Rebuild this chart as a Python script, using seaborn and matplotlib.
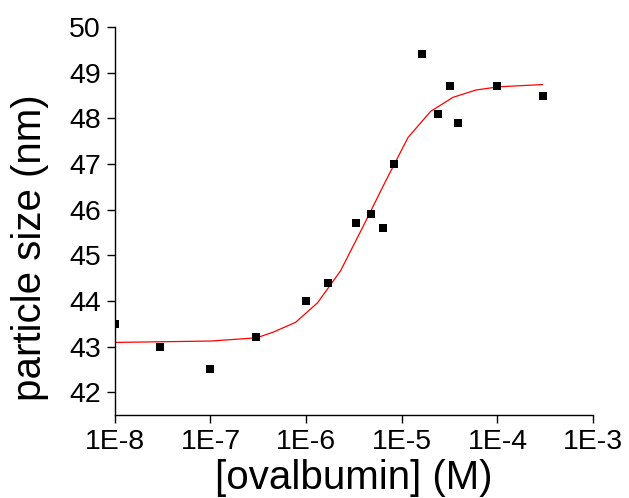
import matplotlib
matplotlib.use('Agg')
import matplotlib.pyplot as plt
import matplotlib.ticker as mticker
import seaborn as sns
import pandas as pd
import numpy as np

# measured points: concentration (M) vs particle size (nm)
conc = [1e-8, 3e-8, 1e-7, 3e-7, 1e-6, 1.7e-6, 3.3e-6, 4.8e-6, 6.3e-6, 8.3e-6,
        1.64e-5, 2.4e-5, 3.2e-5, 3.9e-5, 1e-4, 3e-4]
size = [43.5, 43.0, 42.5, 43.2, 44.0, 44.4, 45.7, 45.9, 45.6, 47.0,
        49.4, 48.1, 48.7, 47.9, 48.7, 48.5]

# fitted curve (log10 of concentration)
fit_logx = [-8.0, -7.0, -6.52, -6.35, -6.11, -5.88, -5.64, -5.40, -5.17,
            -4.935, -4.70, -4.465, -4.225, -3.99, -3.53]
fit_y = [43.09, 43.12, 43.19, 43.31, 43.53, 43.96, 44.66, 45.65, 46.62,
         47.58, 48.15, 48.46, 48.62, 48.69, 48.74]

xticks = [1e-8, 1e-7, 1e-6, 1e-5, 1e-4, 1e-3]
xticklabels = ['1E-8', '1E-7', '1E-6', '1E-5', '1E-4', '1E-3']
yticks = [42, 43, 44, 45, 46, 47, 48, 49, 50]

sns.set_style('ticks')
plt.rcParams['font.family'] = ['Liberation Sans', 'DejaVu Sans']

pts = pd.DataFrame({'conc': conc, 'size': size})
fit = pd.DataFrame({'conc': [10 ** v for v in fit_logx], 'size': fit_y})

fig = plt.figure(figsize=(6.29, 4.98), dpi=100)
ax = fig.add_axes([0.1825, 0.1667, 0.7605, 0.779])

sns.lineplot(data=fit, x='conc', y='size', color='red', linewidth=0.9,
             ax=ax, sort=False)
sns.scatterplot(data=pts, x='conc', y='size', marker='s', s=36,
                color='black', linewidth=0, ax=ax, zorder=3)

ax.set_xscale('log')
ax.set_xlim(1e-8, 1e-3)
ax.set_ylim(41.5, 50)
ax.xaxis.set_major_locator(mticker.FixedLocator(xticks))
ax.xaxis.set_major_formatter(mticker.FixedFormatter(xticklabels))
ax.xaxis.set_minor_locator(mticker.LogLocator(base=10, subs=np.arange(2, 10)))
ax.xaxis.set_minor_formatter(mticker.NullFormatter())
ax.set_yticks(yticks)

for side in ['top', 'right']:
    ax.spines[side].set_visible(False)
for side in ['left', 'bottom']:
    ax.spines[side].set_linewidth(1.0)
    ax.spines[side].set_color('black')

ax.tick_params(axis='both', which='major', direction='out', length=6,
               width=1.0, labelsize=20.5, colors='black', pad=4)
ax.tick_params(axis='x', which='minor', direction='out', length=3, width=1.0)

ax.set_xlabel('[ovalbumin] (M)', fontsize=29, color='black')
ax.set_ylabel('particle size (nm)', fontsize=29, color='black')
ax.xaxis.set_label_coords(0.5, -0.113)
ax.yaxis.set_label_coords(-0.138, 0.43)

fig.savefig('out.png', dpi=100)
